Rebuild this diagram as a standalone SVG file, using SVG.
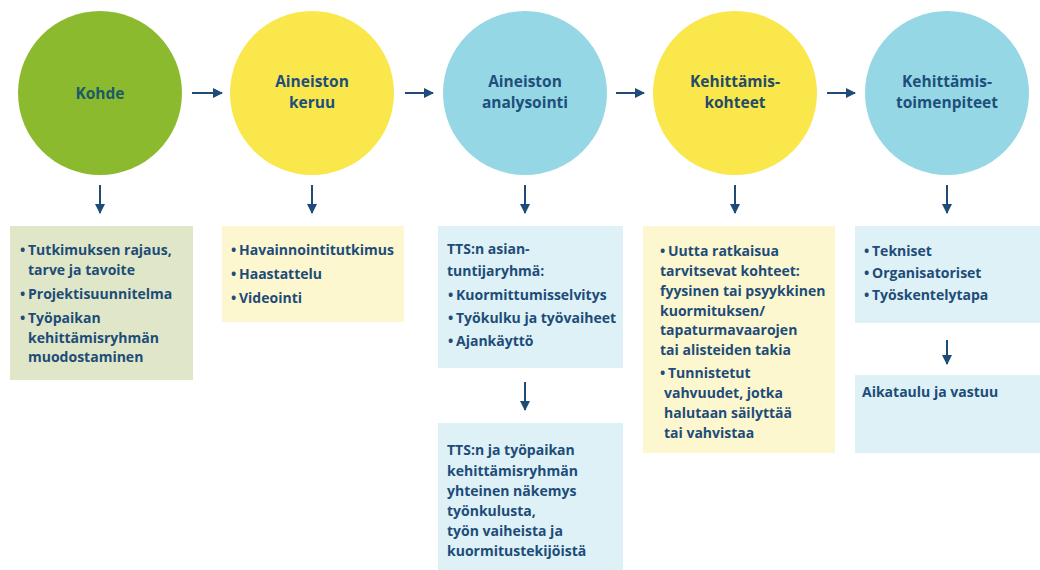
<svg xmlns="http://www.w3.org/2000/svg" width="1040" height="570" viewBox="0 0 1040 570">
<defs>
<style>
.lbl{font-family:"Open Sans","Liberation Sans",sans-serif;font-weight:700;font-size:15.5px;fill:#1e4f7a;text-anchor:middle}
.t{font-family:"Open Sans","Liberation Sans",sans-serif;font-weight:700;font-size:14px;fill:#1d4c78}
.arr{stroke:#1f4b78;stroke-width:2;fill:none;marker-end:url(#ah)}
.g{fill:#8bba2e}.y{fill:#fae74c}.b{fill:#95d7e5}
.bg{fill:#e0e7c8}.by{fill:#fdf7cf}.bb{fill:#def1f7}
</style>
<marker id="ah" viewBox="0 0 10 10" refX="9" refY="5" markerWidth="5" markerHeight="5" orient="auto" markerUnits="strokeWidth">
<path d="M0,0 L10,5 L0,10 z" fill="#1f4b78"/>
</marker>
</defs>
<rect width="1040" height="570" fill="#ffffff"/>

<g id="connectors">
<line class="arr" x1="192" y1="93" x2="222" y2="93"/>
<line class="arr" x1="405" y1="93" x2="433" y2="93"/>
<line class="arr" x1="616" y1="93" x2="644" y2="93"/>
<line class="arr" x1="827" y1="93" x2="855" y2="93"/>
<line class="arr" x1="100" y1="185" x2="100" y2="213"/>
<line class="arr" x1="312" y1="185" x2="312" y2="213"/>
<line class="arr" x1="525" y1="185" x2="525" y2="213"/>
<line class="arr" x1="735" y1="185" x2="735" y2="213"/>
<line class="arr" x1="947" y1="185" x2="947" y2="213"/>
<line class="arr" x1="525" y1="382" x2="525" y2="410"/>
<line class="arr" x1="947" y1="340" x2="947" y2="364"/>
</g>

<g id="kohde">
<circle class="g" cx="100" cy="93" r="82"/>
<text class="lbl" x="100" y="99" style="fill:#1c5a68">Kohde</text>
</g>
<g id="keruu">
<circle class="y" cx="312" cy="93" r="82"/>
<text class="lbl" x="312" y="87">Aineiston</text>
<text class="lbl" x="312" y="108">keruu</text>
</g>
<g id="analysointi">
<circle class="b" cx="525" cy="93" r="82"/>
<text class="lbl" x="525" y="87">Aineiston</text>
<text class="lbl" x="525" y="108">analysointi</text>
</g>
<g id="kohteet">
<circle class="y" cx="735" cy="93" r="82"/>
<text class="lbl" x="735" y="87" style="fill:#244c66">Kehittämis-</text>
<text class="lbl" x="735" y="108" style="fill:#244c66">kohteet</text>
</g>
<g id="toimenpiteet">
<circle class="b" cx="947" cy="93" r="82"/>
<text class="lbl" x="947" y="87">Kehittämis-</text>
<text class="lbl" x="947" y="108">toimenpiteet</text>
</g>

<g id="box-kohde">
<rect class="bg" x="10" y="226" width="183" height="154"/>
<text class="t"><tspan x="20" y="255">•</tspan><tspan x="28" y="255">Tutkimuksen rajaus,</tspan><tspan x="28" y="275">tarve ja tavoite</tspan></text>
<text class="t"><tspan x="20" y="299">•</tspan><tspan x="28" y="299">Projektisuunnitelma</tspan></text>
<text class="t"><tspan x="20" y="323">•</tspan><tspan x="28" y="323">Työpaikan</tspan><tspan x="28" y="343">kehittämisryhmän</tspan><tspan x="28" y="362">muodostaminen</tspan></text>
</g>

<g id="box-keruu">
<rect class="by" x="222" y="226" width="182" height="96"/>
<text class="t"><tspan x="231" y="255">•</tspan><tspan x="239" y="255">Havainnointitutkimus</tspan></text>
<text class="t"><tspan x="231" y="279">•</tspan><tspan x="239" y="279">Haastattelu</tspan></text>
<text class="t"><tspan x="231" y="303">•</tspan><tspan x="239" y="303">Videointi</tspan></text>
</g>

<g id="box-analysointi">
<rect class="bb" x="438" y="226" width="185" height="142"/>
<text class="t"><tspan x="447" y="254">TTS:n asian-</tspan><tspan x="447" y="276">tuntijaryhmä:</tspan></text>
<text class="t"><tspan x="448" y="300">•</tspan><tspan x="456" y="300">Kuormittumisselvitys</tspan></text>
<text class="t"><tspan x="448" y="323">•</tspan><tspan x="456" y="323">Työkulku ja työvaiheet</tspan></text>
<text class="t"><tspan x="448" y="346">•</tspan><tspan x="456" y="346">Ajankäyttö</tspan></text>
</g>

<g id="box-nakemys">
<rect class="bb" x="438" y="423" width="185" height="147"/>
<text class="t"><tspan x="447" y="455">TTS:n ja työpaikan</tspan><tspan x="447" y="476">kehittämisryhmän</tspan><tspan x="447" y="496">yhteinen näkemys</tspan><tspan x="447" y="516">työnkulusta,</tspan><tspan x="447" y="536">työn vaiheista ja</tspan><tspan x="447" y="556">kuormitustekijöistä</tspan></text>
</g>

<g id="box-kohteet">
<rect class="by" x="643" y="226" width="192" height="227"/>
<text class="t"><tspan x="660" y="256">•</tspan><tspan x="668" y="256">Uutta ratkaisua</tspan><tspan x="660" y="276">tarvitsevat kohteet:</tspan><tspan x="660" y="296">fyysinen tai psyykkinen</tspan><tspan x="660" y="316">kuormituksen/</tspan><tspan x="660" y="335">tapaturmavaarojen</tspan><tspan x="660" y="355">tai alisteiden takia</tspan></text>
<text class="t"><tspan x="660" y="378">•</tspan><tspan x="668" y="378">Tunnistetut</tspan><tspan x="664" y="398">vahvuudet, jotka</tspan><tspan x="664" y="418">halutaan säilyttää</tspan><tspan x="664" y="438">tai vahvistaa</tspan></text>
</g>

<g id="box-toimenpiteet">
<rect class="bb" x="855" y="226" width="185" height="97"/>
<text class="t"><tspan x="864" y="256">•</tspan><tspan x="872" y="256">Tekniset</tspan></text>
<text class="t"><tspan x="864" y="278">•</tspan><tspan x="872" y="278">Organisatoriset</tspan></text>
<text class="t"><tspan x="864" y="300">•</tspan><tspan x="872" y="300">Työskentelytapa</tspan></text>
</g>

<g id="box-aikataulu">
<rect class="bb" x="855" y="375" width="185" height="78"/>
<text class="t" x="862" y="397">Aikataulu ja vastuu</text>
</g>
</svg>
